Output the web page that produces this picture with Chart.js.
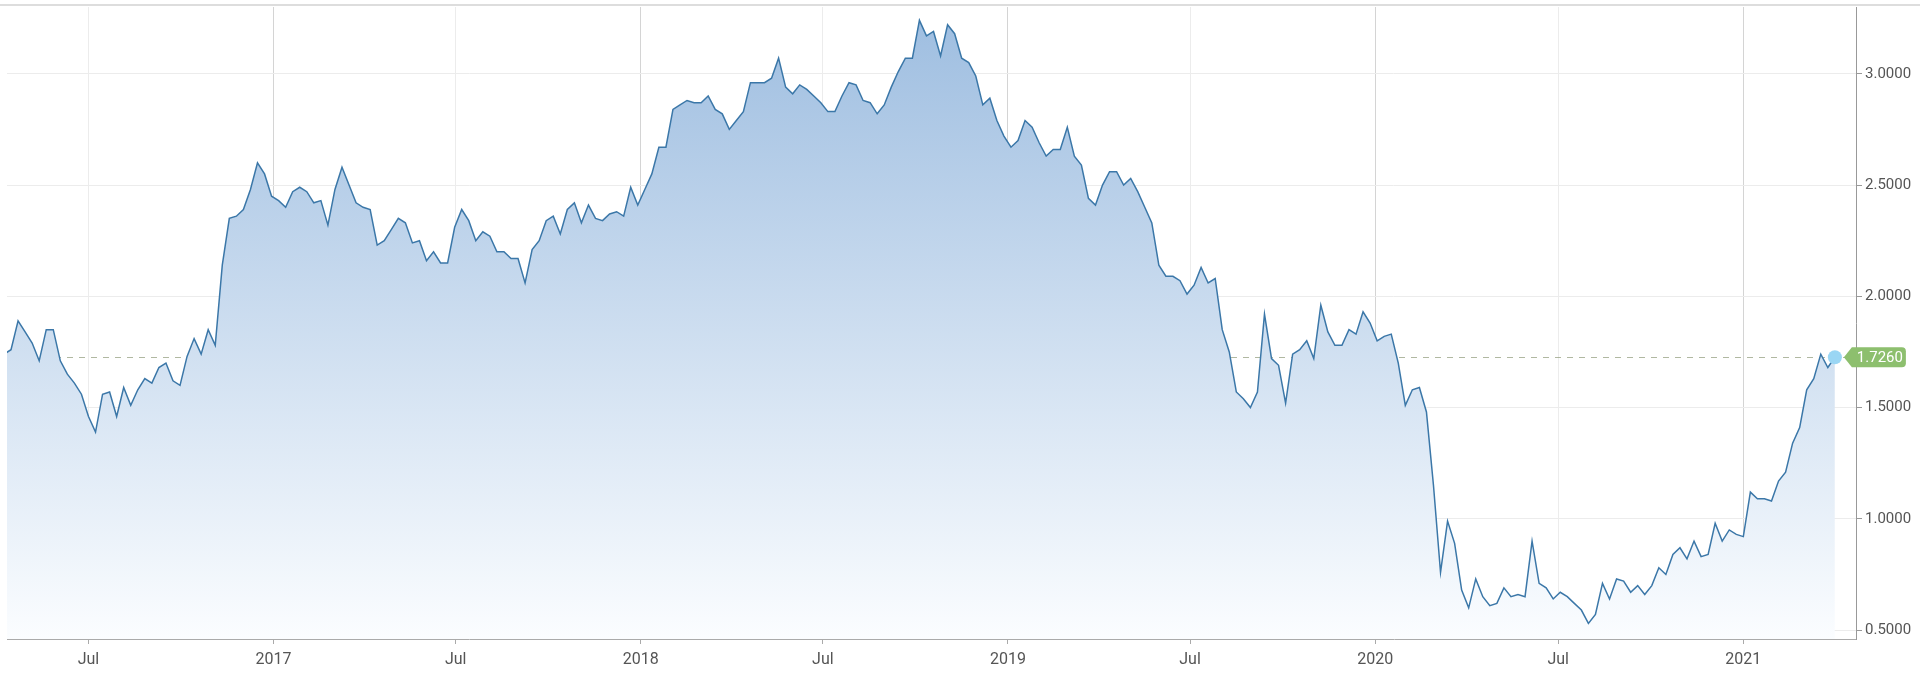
<!DOCTYPE html>
<html>
<head>
<meta charset="utf-8">
<title>10Y yield</title>
<script src="https://cdn.jsdelivr.net/npm/chart.js@4.4.1/dist/chart.umd.min.js"></script>
<style>
  html, body { margin: 0; padding: 0; background: #fff; }
  #wrap { width: 1920px; height: 683px; position: relative; }
</style>
</head>
<body>
<div id="wrap"><canvas id="yieldChart"></canvas></div>
<script>
// weekly closes, first one on this Friday
const startDate = '2016-04-08';
const yields = [
  1.74, 1.76, 1.89, 1.84, 1.79, 1.71, 1.85, 1.85, 1.71, 1.65, 1.61, 1.56, 1.46, 1.39, 1.56, 1.57,
  1.46, 1.59, 1.51, 1.58, 1.63, 1.61, 1.68, 1.70, 1.62, 1.60, 1.73, 1.81, 1.74, 1.85, 1.78, 2.14,
  2.35, 2.36, 2.39, 2.48, 2.60, 2.55, 2.45, 2.43, 2.40, 2.47, 2.49, 2.47, 2.42, 2.43, 2.32, 2.48,
  2.58, 2.50, 2.42, 2.40, 2.39, 2.23, 2.25, 2.30, 2.35, 2.33, 2.24, 2.25, 2.16, 2.20, 2.15, 2.15,
  2.31, 2.39, 2.34, 2.25, 2.29, 2.27, 2.20, 2.20, 2.17, 2.17, 2.06, 2.21, 2.25, 2.34, 2.36, 2.28,
  2.39, 2.42, 2.33, 2.41, 2.35, 2.34, 2.37, 2.38, 2.36, 2.49, 2.41, 2.48, 2.55, 2.67, 2.67, 2.84,
  2.86, 2.88, 2.87, 2.87, 2.90, 2.84, 2.82, 2.75, 2.79, 2.83, 2.96, 2.96, 2.96, 2.98, 3.07, 2.94,
  2.91, 2.95, 2.93, 2.90, 2.87, 2.83, 2.83, 2.90, 2.96, 2.95, 2.88, 2.87, 2.82, 2.86, 2.94, 3.01,
  3.07, 3.07, 3.24, 3.17, 3.19, 3.08, 3.22, 3.18, 3.07, 3.05, 2.99, 2.86, 2.89, 2.79, 2.72, 2.67,
  2.70, 2.79, 2.76, 2.69, 2.63, 2.66, 2.66, 2.76, 2.63, 2.59, 2.44, 2.41, 2.50, 2.56, 2.56, 2.50,
  2.53, 2.47, 2.40, 2.33, 2.14, 2.09, 2.09, 2.07, 2.01, 2.05, 2.13, 2.06, 2.08, 1.85, 1.75, 1.57,
  1.54, 1.50, 1.57, 1.92, 1.72, 1.69, 1.52, 1.74, 1.76, 1.80, 1.72, 1.96, 1.84, 1.78, 1.78, 1.85,
  1.83, 1.93, 1.88, 1.80, 1.82, 1.83, 1.70, 1.51, 1.58, 1.59, 1.48, 1.15, 0.76, 0.99, 0.89, 0.68,
  0.60, 0.73, 0.65, 0.61, 0.62, 0.69, 0.65, 0.66, 0.65, 0.90, 0.71, 0.69, 0.64, 0.67, 0.65, 0.62,
  0.59, 0.53, 0.57, 0.71, 0.64, 0.73, 0.72, 0.67, 0.70, 0.66, 0.70, 0.78, 0.75, 0.84, 0.87, 0.82,
  0.90, 0.83, 0.84, 0.98, 0.90, 0.95, 0.93, 0.92, 1.12, 1.09, 1.09, 1.08, 1.17, 1.21, 1.34, 1.41,
  1.58, 1.63, 1.74, 1.68, 1.726
];
const tickDates = ['2016-07-01', '2017-01-01', '2017-07-01', '2018-01-01', '2018-07-01',
                   '2019-01-01', '2019-07-01', '2020-01-01', '2020-07-01', '2021-01-01'];
const tickLabels = ['Jul', '2017', 'Jul', '2018', 'Jul', '2019', 'Jul', '2020', 'Jul', '2021'];
const yTicks = [0.5, 1.0, 1.5, 2.0, 2.5, 3.0];

const DAY = 864e5;
const dayNum = s => Date.parse(s + 'T00:00:00Z') / DAY;

const points = yields.map((v, i) => ({ x: dayNum(startDate) + 7 * i, y: v }));
const lastIdx = yields.length - 1;
const lastValue = yields[lastIdx];

Chart.defaults.font.family = 'Roboto, "Liberation Sans", sans-serif';
Chart.defaults.color = '#555';

// dashed level line, top rule and the value badge
const lastValuePlugin = {
  id: 'lastValue',
  beforeDatasetsDraw(chart) {
    const { ctx, chartArea, scales } = chart;
    const y = Math.round(scales.y.getPixelForValue(lastValue)) + 0.5;
    ctx.save();
    ctx.strokeStyle = 'rgba(150,160,130,0.75)';
    ctx.lineWidth = 1;
    ctx.setLineDash([6, 6]);
    ctx.beginPath();
    ctx.moveTo(chartArea.left, y);
    ctx.lineTo(chartArea.right, y);
    ctx.stroke();
    ctx.restore();
  },
  afterDraw(chart) {
    const { ctx, scales, width } = chart;
    const y = scales.y.getPixelForValue(lastValue);
    const pt = chart.getDatasetMeta(0).data[lastIdx];
    ctx.save();
    // top rule across the whole widget
    ctx.strokeStyle = '#dddddd';
    ctx.lineWidth = 2;
    ctx.beginPath();
    ctx.moveTo(0, 5);
    ctx.lineTo(width, 5);
    ctx.stroke();

    const tip = pt.x + 9, x0 = tip + 8, x1 = x0 + 54, h = 20, r = 4;
    ctx.fillStyle = '#8dbf6e';
    ctx.beginPath();
    ctx.moveTo(tip, y);
    ctx.lineTo(x0, y - h / 2);
    ctx.lineTo(x1 - r, y - h / 2);
    ctx.quadraticCurveTo(x1, y - h / 2, x1, y - h / 2 + r);
    ctx.lineTo(x1, y + h / 2 - r);
    ctx.quadraticCurveTo(x1, y + h / 2, x1 - r, y + h / 2);
    ctx.lineTo(x0, y + h / 2);
    ctx.closePath();
    ctx.fill();
    ctx.fillStyle = '#ffffff';
    ctx.font = '15px Roboto, sans-serif';
    ctx.textAlign = 'center';
    ctx.textBaseline = 'middle';
    ctx.fillText(lastValue.toFixed(4), (x0 + x1) / 2 + 1, y + 1);
    ctx.restore();
  }
};

const ctx = document.getElementById('yieldChart').getContext('2d');
const yieldChart = new Chart(ctx, {
  type: 'line',
  data: {
    datasets: [{
      data: points,
      borderColor: '#3b77a8',
      borderWidth: 1.5,
      tension: 0,
      fill: 'start',
      backgroundColor: function (context) {
        const area = context.chart.chartArea;
        if (!area) return null;
        const g = context.chart.ctx.createLinearGradient(0, area.top, 0, area.bottom);
        g.addColorStop(0, '#9dbde0');
        g.addColorStop(1, '#fbfdff');
        return g;
      },
      pointRadius: c => (c.dataIndex === lastIdx ? 7 : 0),
      pointHoverRadius: 0,
      pointBackgroundColor: '#9ad6f4',
      pointBorderWidth: 0
    }]
  },
  options: {
    responsive: true,
    maintainAspectRatio: false,
    devicePixelRatio: 1,
    animation: false,
    layout: { padding: { left: 7, top: 6, right: 0, bottom: 0 } },
    plugins: { legend: { display: false }, tooltip: { enabled: false } },
    scales: {
      x: {
        type: 'linear',
        min: dayNum('2016-04-11'),
        max: dayNum('2021-04-23'),
        afterBuildTicks: s => { s.ticks = tickDates.map(d => ({ value: dayNum(d) })); },
        afterFit: s => { s.height = 44; s.paddingLeft = 0; s.paddingRight = 0; },
        ticks: {
          autoSkip: false,
          maxRotation: 0,
          padding: 6,
          font: { size: 16 },
          color: '#555',
          callback: (v, i) => tickLabels[i]
        },
        grid: {
          color: c => (tickLabels[c.index] === 'Jul' ? '#ececec' : '#d4d4d4'),
          tickColor: '#aaa',
          tickLength: 5
        },
        border: { color: '#aaa' }
      },
      y: {
        position: 'right',
        min: 0.46,
        max: 3.30,
        afterBuildTicks: s => { s.ticks = yTicks.map(v => ({ value: v })); },
        afterFit: s => { s.width = 64; s.paddingTop = 0; s.paddingBottom = 0; },
        ticks: {
          padding: 3,
          font: { size: 15 },
          color: '#555',
          callback: v => v.toFixed(4)
        },
        grid: { color: '#ececec', tickColor: '#999', tickLength: 6 },
        border: { color: '#999' }
      }
    }
  },
  plugins: [lastValuePlugin]
});
</script>
</body>
</html>
